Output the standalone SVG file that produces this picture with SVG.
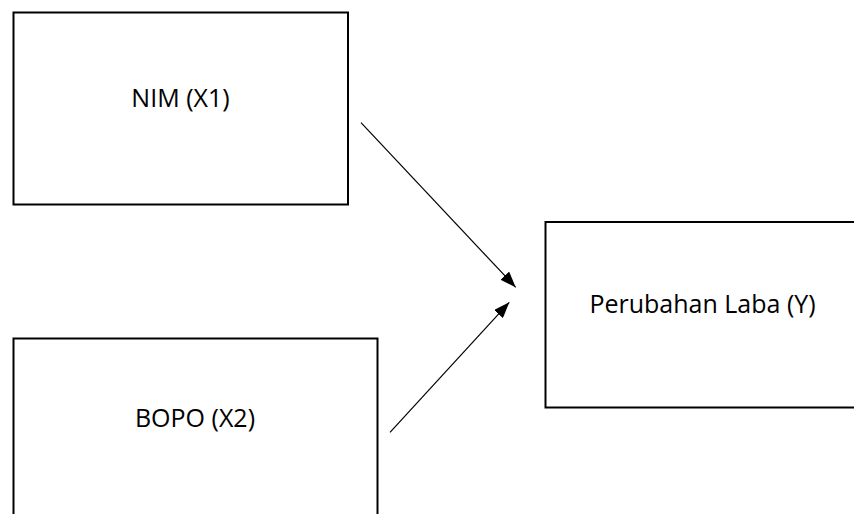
<svg xmlns="http://www.w3.org/2000/svg" width="854" height="514" viewBox="0 0 854 514">
  <style>
    .box { fill: #ffffff; stroke: #000000; stroke-width: 2; }
    .label { font-family: "Open Sans", "Liberation Sans", sans-serif; font-size: 25px; fill: #000000; text-anchor: middle; }
    .edge { stroke: #000000; stroke-width: 1.2; fill: none; marker-end: url(#arrow); }
  </style>
  <defs>
    <marker id="arrow" viewBox="0 0 16 12" refX="16" refY="6" markerWidth="16" markerHeight="12" markerUnits="userSpaceOnUse" orient="auto">
      <path d="M0,0 L16,6 L0,12 Z" fill="#000000"/>
    </marker>
  </defs>
  <rect width="854" height="514" fill="#ffffff"/>

  <g id="nim">
    <rect class="box" x="13.5" y="12.5" width="334.5" height="192"/>
    <text class="label" x="180.5" y="107">NIM (X1)</text>
  </g>

  <g id="bopo">
    <rect class="box" x="13.5" y="338.5" width="364" height="190"/>
    <text class="label" x="195" y="427">BOPO (X2)</text>
  </g>

  <g id="laba">
    <rect class="box" x="545.5" y="222" width="320" height="185.5"/>
    <text class="label" x="702.5" y="313">Perubahan Laba (Y)</text>
  </g>

  <g id="connectors">
    <line class="edge" x1="361" y1="122.7" x2="515.7" y2="287.3"/>
    <line class="edge" x1="390" y1="432.3" x2="509.3" y2="302.3"/>
  </g>
</svg>
